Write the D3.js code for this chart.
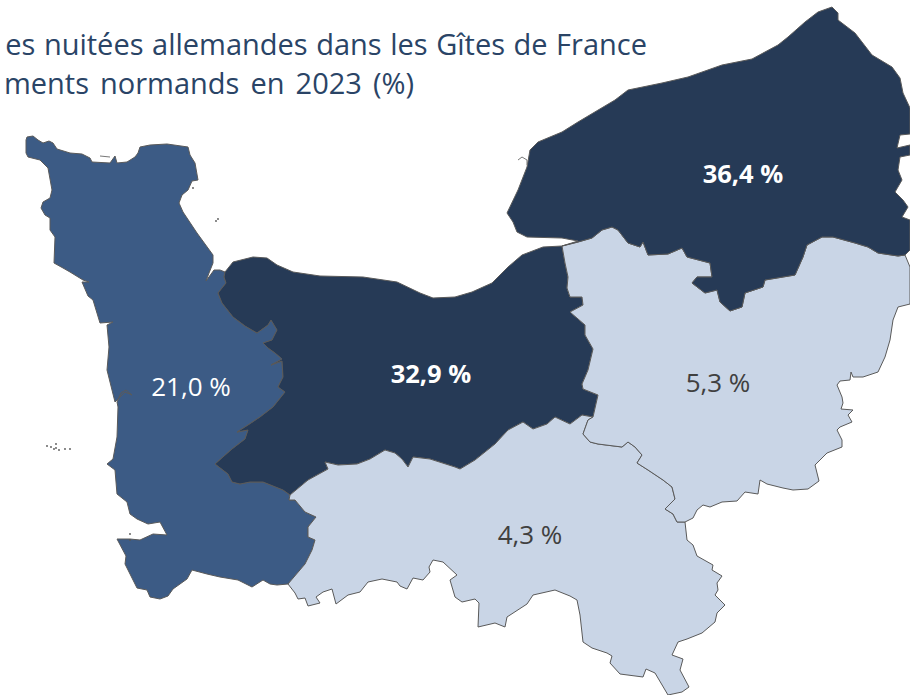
<!DOCTYPE html>
<html lang="fr"><head><meta charset="utf-8">
<script src="https://cdn.jsdelivr.net/npm/d3@7"></script>
<style>html,body{margin:0;padding:0;background:#fff;overflow:hidden}svg{display:block}</style>
</head><body><svg id="map" width="910" height="695"></svg>
<script>
const titleLines=["es nuitées allemandes dans les Gîtes de France","ments normands en 2023 (%)"];
const departments=["Manche","Calvados","Orne","Eure","Seine-Maritime"];
const shares=[21.0,32.9,4.3,5.3,36.4];
const shareLabels=["21,0 %","32,9 %","4,3 %","5,3 %","36,4 %"];
const labelAnchors=[[191,396],[431,383],[530,544],[718,392],[743,183]];

// traced boundary arcs, shared between neighbouring departments
const arcManCal=[[225,272],[224,277],[226,283],[218,293],[222,303],[233,317],[245,326],[257,333],[268,325],[271,320],[277,330],[272,340],[263,343],[268,348],[275,353],[282,359],[271,365],[282,361],[283,377],[278,387],[285,392],[273,407],[260,417],[248,425],[237,432],[248,430],[245,439],[232,449],[215,464],[228,474],[232,482],[240,484],[250,482],[263,482],[283,490],[290,495]];
const arcCalOrne=[[290,495],[308,480],[328,469],[325,462],[338,465],[357,464],[370,459],[385,450],[395,453],[402,459],[408,467],[413,457],[430,459],[455,467],[460,469],[475,460],[495,444],[508,430],[523,422],[533,429],[547,424],[555,417],[570,424],[582,415],[593,417]];
const arcEureCal=[[593,417],[598,395],[583,389],[582,384],[588,370],[593,349],[585,335],[585,325],[570,312],[583,305],[582,297],[570,297],[567,288],[568,277],[565,263],[562,246]];
const arcCalCoast=[[562,246],[543,247],[522,255],[508,267],[492,283],[472,292],[455,297],[433,298],[420,293],[397,282],[363,277],[320,276],[293,272],[277,265],[267,258],[253,257],[233,262],[225,272]];
const arcManOrne=[[290,495],[289,500],[295,500],[305,512],[316,517],[308,527],[308,537],[315,540],[312,550],[305,564],[288,584]];
const arcManCoast=[[288,584],[277,585],[270,584],[263,580],[252,587],[238,580],[220,577],[207,574],[192,570],[187,579],[173,589],[168,596],[160,599],[150,597],[147,590],[137,588],[125,564],[126,556],[117,539],[130,539],[140,540],[153,534],[167,535],[160,522],[148,524],[137,519],[130,514],[127,502],[117,494],[115,470],[107,464],[113,459],[117,437],[118,407],[117,402],[121,393],[126,390],[132,395],[125,392],[120,397],[115,402],[112,390],[107,370],[109,347],[107,325],[113,322],[100,323],[93,300],[88,296],[82,282],[89,282],[83,280],[70,272],[63,268],[54,263],[55,237],[50,230],[50,218],[45,215],[41,208],[43,202],[50,198],[52,190],[48,168],[40,160],[28,157],[26,153],[26,140],[27,137],[33,136],[38,140],[43,143],[49,141],[53,143],[57,149],[70,153],[82,154],[90,158],[92,162],[110,163],[115,156],[117,163],[127,162],[135,157],[138,153],[140,147],[150,145],[167,144],[188,147],[190,155],[195,163],[198,180],[192,181],[188,190],[182,195],[179,203],[183,212],[197,233],[213,255],[213,263],[209,273],[206,281],[214,270],[220,270],[225,272]];
const arcOrneEure=[[593,417],[588,420],[583,434],[590,442],[598,444],[622,447],[628,442],[635,447],[642,455],[637,463],[648,470],[663,480],[672,487],[675,499],[665,509],[673,514],[677,522],[685,522]];
const arcOrneSouth=[[685,522],[687,540],[693,545],[697,556],[713,565],[712,570],[722,576],[717,583],[718,590],[715,595],[725,605],[717,613],[715,622],[702,633],[687,639],[678,642],[672,655],[683,659],[680,670],[689,687],[682,692],[668,695],[655,673],[646,669],[643,677],[620,674],[610,663],[612,656],[607,653],[592,648],[583,642],[580,615],[577,600],[570,596],[555,590],[533,595],[527,604],[507,617],[505,627],[495,623],[478,627],[479,603],[475,599],[462,602],[455,597],[450,580],[457,575],[443,562],[433,560],[429,567],[430,572],[423,580],[413,578],[407,589],[400,586],[397,582],[382,579],[368,582],[360,592],[348,595],[336,604],[332,589],[323,592],[316,597],[320,603],[308,606],[305,598],[298,599],[295,593],[288,584]];
const arcEstuary=[[562,246],[578,242],[592,238],[602,230],[612,227],[618,230],[628,243],[640,247],[643,242],[648,255],[668,254],[682,248],[687,257],[710,263],[712,277],[697,277],[692,283],[705,293],[717,290],[720,302],[730,311],[742,307],[745,293],[763,287],[765,280],[795,275],[803,257],[807,245],[822,237],[833,237],[855,243],[868,247],[878,253],[898,256],[905,255]];
const arcEureEast=[[905,255],[910,267],[910,304],[898,307],[893,320],[890,340],[885,357],[878,372],[863,377],[853,377],[851,372],[850,380],[840,381],[837,385],[842,397],[843,403],[841,409],[853,410],[848,415],[852,422],[840,427],[837,430],[842,440],[842,447],[827,453],[815,465],[819,481],[808,489],[793,490],[783,488],[767,484],[760,480],[758,494],[745,492],[737,501],[722,502],[710,507],[703,505],[697,510],[693,518],[685,522]];
const arcSeineNorth=[[905,255],[910,250],[910,220],[902,217],[908,207],[903,200],[895,192],[902,180],[898,170],[900,157],[910,155],[910,145],[897,148],[900,135],[910,134],[910,108],[903,93],[900,78],[892,67],[872,55],[855,33],[838,20],[838,13],[832,7],[818,12],[805,22],[788,37],[778,45],[752,59],[722,65],[688,77],[662,83],[628,90],[615,100],[578,122],[562,132],[538,142],[530,150],[527,167],[518,190],[507,213],[513,222],[517,232],[527,237],[562,238],[578,241],[562,246]];
const chauseyIslets=[[47,446],[51,447],[54,449],[56,444],[56,448],[59,450],[65,449],[70,449],[216,221],[218,219],[193,188],[130,534],[130,540]];
const coastDetails=[[[100,156],[110,157]],[[518,160],[522,157],[527,160],[527,165]]];

const rings=[
  [arcManCal,arcManOrne,arcManCoast],
  [arcManCal,arcCalOrne,arcEureCal,arcCalCoast],
  [arcCalOrne,arcOrneEure,arcOrneSouth,arcManOrne.slice().reverse()],
  [arcEstuary,arcEureEast,arcOrneEure.slice().reverse(),arcEureCal],
  [arcEstuary,arcSeineNorth]
].map(parts=>parts.flat());

const colour=d3.scaleThreshold().domain([10,30]).range(["#c9d5e6","#3c5b85","#263a56"]);
const path=d3.geoPath(d3.geoIdentity());
const svg=d3.select("#map");

const feats=departments.map((name,i)=>({type:"Feature",properties:{name,share:shares[i]},
  geometry:{type:"Polygon",coordinates:[rings[i]]}}));

svg.append("g").selectAll("path").data(feats).join("path")
  .attr("d",path).attr("fill",d=>colour(d.properties.share))
  .attr("stroke","#5a5a5a").attr("stroke-width",1).attr("stroke-linejoin","round");

svg.append("g").selectAll("path").data(coastDetails).join("path")
  .attr("d",d=>path({type:"LineString",coordinates:d}))
  .attr("fill","none").attr("stroke","#777").attr("stroke-width",1);

svg.append("g").selectAll("circle").data(chauseyIslets).join("circle")
  .attr("cx",d=>d[0]).attr("cy",d=>d[1]).attr("r",0.9).attr("fill","#555");

const fs="'Open Sans',sans-serif";
svg.append("g").selectAll("text").data(titleLines).join("text")
  .attr("x",(d,i)=>[647,414][i]).attr("y",(d,i)=>[55,94][i])
  .attr("text-anchor","end").attr("font-family",fs).attr("font-size",29)
  .attr("word-spacing",(d,i)=>[1,3.5][i])
  .attr("fill","#2a4466").text(d=>d);

svg.append("g").selectAll("text").data(shareLabels).join("text")
  .attr("x",(d,i)=>labelAnchors[i][0]).attr("y",(d,i)=>labelAnchors[i][1])
  .attr("text-anchor","middle").attr("font-family",fs)
  .attr("font-size",(d,i)=>shares[i]>30?25.5:26)
  .attr("font-weight",(d,i)=>shares[i]>30?700:400)
  .attr("fill",(d,i)=>shares[i]>10?"#fff":"#404040").text(d=>d);
</script></body></html>
